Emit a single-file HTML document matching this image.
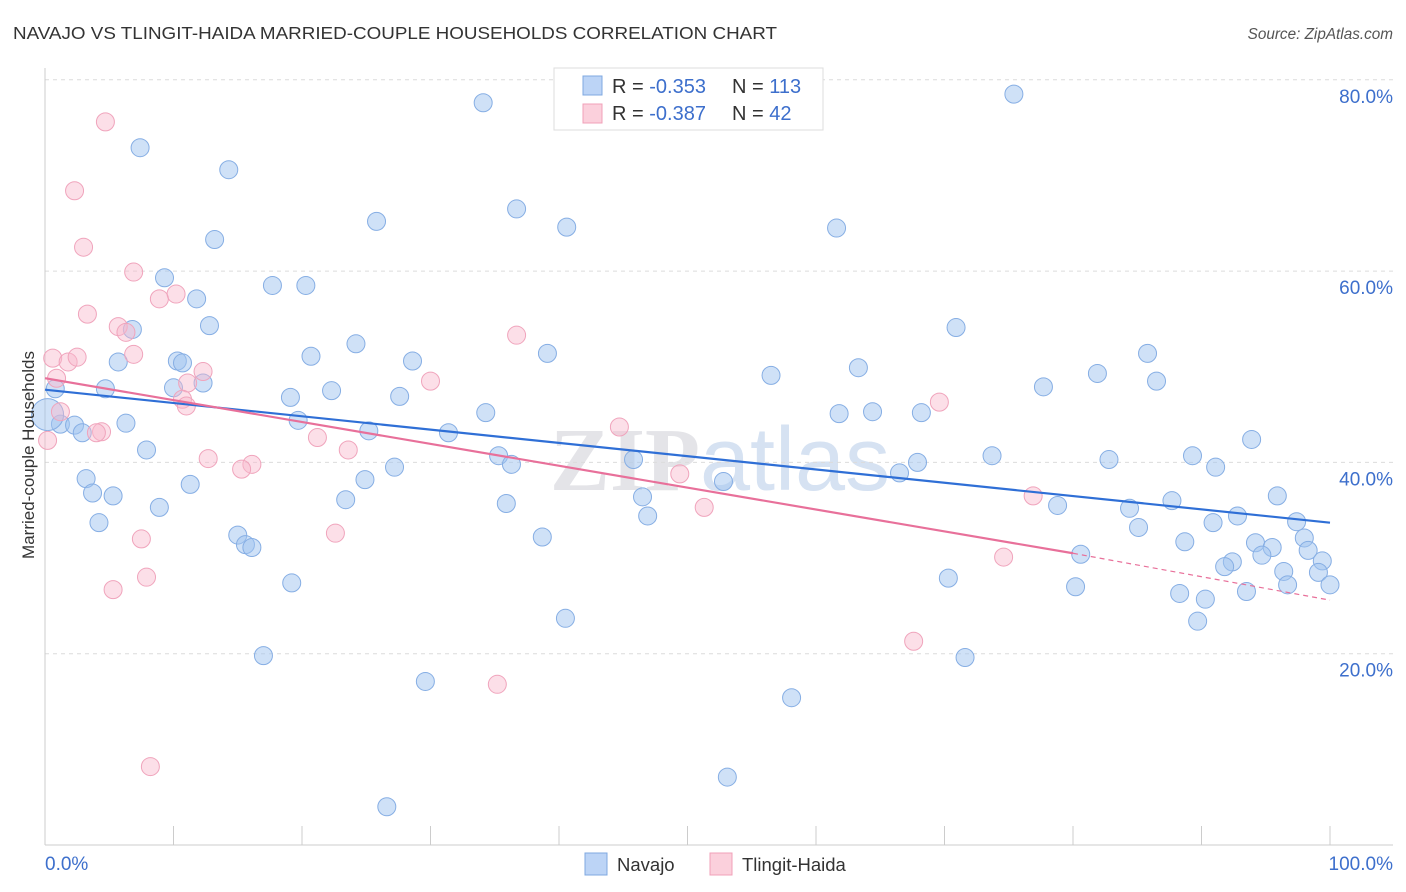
<!DOCTYPE html>
<html><head><meta charset="utf-8"><style>
body{margin:0;background:#fff;font-family:"Liberation Sans",sans-serif}
svg{display:block}
</style></head><body>
<svg id="chart" width="1406" height="892" viewBox="0 0 1406 892" xmlns="http://www.w3.org/2000/svg">
<text x="13" y="39" font-size="17.5" fill="#333" textLength="764" lengthAdjust="spacingAndGlyphs">NAVAJO VS TLINGIT-HAIDA MARRIED-COUPLE HOUSEHOLDS CORRELATION CHART</text>
<text x="1393" y="39" font-size="15.3" fill="#555" font-style="italic" text-anchor="end">Source: ZipAtlas.com</text>
<text x="720" y="490" font-size="90" fill="#e4e4e8" text-anchor="middle" font-weight="bold" font-family="Liberation Serif, serif">ZIP<tspan font-family="Liberation Sans, sans-serif" font-weight="normal" fill="#d6e2f2">atlas</tspan></text>
<g id="grid"></g>
<g id="axes"></g>
<g id="dots"></g>
<g id="trends"></g>
<text transform="translate(34,455) rotate(-90)" font-size="17" fill="#333" text-anchor="middle">Married-couple Households</text>
<g>
<rect x="554" y="68" width="269" height="62" fill="#fff" stroke="#ddd"/>
<rect x="583" y="76" width="19" height="19" fill="#bcd4f6" stroke="#7fa8e0"/>
<text x="612" y="93" font-size="20" fill="#333">R = <tspan fill="#3d6fcc">-0.353</tspan><tspan x="732">N = </tspan><tspan fill="#3d6fcc">113</tspan></text>
<rect x="583" y="104" width="19" height="19" fill="#fbd0dc" stroke="#f0a0b8"/>
<text x="612" y="120" font-size="20" fill="#333">R = <tspan fill="#3d6fcc">-0.387</tspan><tspan x="732">N = </tspan><tspan fill="#3d6fcc"> 42</tspan></text>
</g>
<g>
<rect x="585" y="853" width="22" height="22" fill="#bcd4f6" stroke="#7fa8e0"/>
<text x="617" y="871" font-size="18.5" fill="#333">Navajo</text>
<rect x="710" y="853" width="22" height="22" fill="#fbd0dc" stroke="#f0a0b8"/>
<text x="742" y="871" font-size="18.5" fill="#333">Tlingit-Haida</text>
</g>
</svg>
<script>
const navajoX=[34.1,75.4,7.4,14.3,36.7,25.8,40.6,61.6,13.2,9.3,17.7,20.3,11.8,12.8,6.8,70.9,24.2,39.1,20.7,85.8,5.7,10.3,10.7,28.6,56.5,63.3,81.9,86.5,12.3,4.7,10.0,22.3,77.7,19.1,27.6,0.8,34.3,61.8,64.4,68.2,19.7,6.3,1.2,2.3,2.9,25.2,31.4,93.9,7.9,35.3,36.3,45.8,73.7,82.8,89.3,91.1,27.2,66.5,67.9,52.8,3.2,11.3,24.9,3.7,5.3,23.4,46.5,95.9,8.9,35.9,78.8,87.7,84.4,92.8,46.9,90.9,4.2,97.4,85.1,15.0,38.7,98.0,15.6,16.1,88.7,94.2,95.5,94.7,98.3,80.6,99.4,92.4,91.8,96.4,99.1,96.7,100,19.2,70.3,80.2,88.3,90.3,93.5,89.7,40.5,17.0,71.6,29.6,58.1,53.1,26.6,0.2];
const navajoY=[77.6,78.5,72.9,70.6,66.5,65.2,64.6,64.5,63.3,59.3,58.5,58.5,57.1,54.3,53.9,54.1,52.4,51.4,51.1,51.4,50.5,50.6,50.4,50.6,49.1,49.9,49.3,48.5,48.3,47.7,47.8,47.5,47.9,46.8,46.9,47.7,45.2,45.1,45.3,45.2,44.4,44.1,44.0,43.9,43.1,43.3,43.1,42.4,41.3,40.7,39.8,40.3,40.7,40.3,40.7,39.5,39.5,38.9,40.0,38.0,38.3,37.7,38.2,36.8,36.5,36.1,36.4,36.5,35.3,35.7,35.5,36.0,35.2,34.4,34.4,33.7,33.7,33.8,33.2,32.4,32.2,32.1,31.4,31.1,31.7,31.6,31.1,30.3,30.8,30.4,29.7,29.6,29.1,28.6,28.5,27.2,27.2,27.4,27.9,27.0,26.3,25.7,26.5,23.4,23.7,19.8,19.6,17.1,15.4,7.1,4.0,45.0];
const tlingitX=[4.7,2.3,3.0,6.9,10.2,8.9,3.3,5.7,6.3,36.7,6.9,0.6,1.8,2.5,12.3,11.1,30.0,0.9,69.6,10.7,11.0,1.2,44.7,4.4,4.0,21.2,23.6,12.7,16.1,15.3,49.4,76.9,51.3,22.6,7.5,74.6,7.9,5.3,67.6,35.2,8.2,0.2];
const tlingitY=[75.6,68.4,62.5,59.9,57.6,57.1,55.5,54.2,53.6,53.3,51.3,50.9,50.5,51.0,49.5,48.3,48.5,48.8,46.3,46.6,45.9,45.3,43.7,43.2,43.1,42.6,41.3,40.4,39.8,39.3,38.8,36.5,35.3,32.6,32.0,30.1,28.0,26.7,21.3,16.8,8.2,42.3];
const navajoTrendX=[0,100], navajoTrendY=[47.6,33.7];
const tlingitTrendX=[0,80,100], tlingitTrendY=[48.8,30.5,25.6];
const yTicks=[20,40,60,80];
const yTickLabels=["20.0%","40.0%","60.0%","80.0%"];
const xTicks=[0,10,20,30,40,50,60,70,80,90,100];

const NS="http://www.w3.org/2000/svg";
const sx=v=>45+v*12.85, sy=v=>845-v*9.565;
function mk(parent,tag,attrs){const e=document.createElementNS(NS,tag);for(const k in attrs)e.setAttribute(k,attrs[k]);document.getElementById(parent).appendChild(e);return e;}

yTicks.forEach((t,i)=>{
  const g=mk('grid','line',{x1:45,x2:1393,y1:sy(t),y2:sy(t),stroke:'#dcdcdc','stroke-dasharray':'4,4'});
  
  
  const l=mk('axes','text',{x:1393,y:sy(t)+23,'font-size':19,fill:'#3d6fcc','text-anchor':'end'});
  l.textContent=yTickLabels[i];
  
  
});
let a=mk('axes','line',{x1:45,x2:45,y1:68,y2:845,stroke:'#ccc'});


a=mk('axes','line',{x1:45,x2:1393,y1:845,y2:845,stroke:'#ccc'});


xTicks.forEach(t=>{
  const k=mk('axes','line',{x1:sx(t),x2:sx(t),y1:826,y2:845,stroke:'#ccc'});
  
  
});
let xl=mk('axes','text',{x:45,y:870,'font-size':19,fill:'#3d6fcc'});xl.textContent='0.0%';


xl=mk('axes','text',{x:1393,y:870,'font-size':19,fill:'#3d6fcc','text-anchor':'end'});xl.textContent='100.0%';



navajoX.forEach((x,i)=>{
  const big=i===navajoX.length-1;
  const c=mk('dots','circle',{cx:sx(x),cy:sy(navajoY[i]),r:big?16:9,fill:'rgba(160,195,240,0.5)',stroke:'#86aee4','stroke-width':1});
  
  
});
tlingitX.forEach((x,i)=>{
  const c=mk('dots','circle',{cx:sx(x),cy:sy(tlingitY[i]),r:9,fill:'rgba(248,185,205,0.45)',stroke:'#f0a4bc','stroke-width':1});
  
  
});
let t=mk('trends','line',{x1:sx(navajoTrendX[0]),y1:sy(navajoTrendY[0]),x2:sx(navajoTrendX[1]),y2:sy(navajoTrendY[1]),stroke:'#2f6fd6','stroke-width':2.2});


t=mk('trends','line',{x1:sx(tlingitTrendX[0]),y1:sy(tlingitTrendY[0]),x2:sx(tlingitTrendX[1]),y2:sy(tlingitTrendY[1]),stroke:'#e8709a','stroke-width':2.2});


t=mk('trends','line',{x1:sx(tlingitTrendX[1]),y1:sy(tlingitTrendY[1]),x2:sx(tlingitTrendX[2]),y2:sy(tlingitTrendY[2]),stroke:'#e8709a','stroke-width':1.2,'stroke-dasharray':'5,4'});


</script>
</body></html>
